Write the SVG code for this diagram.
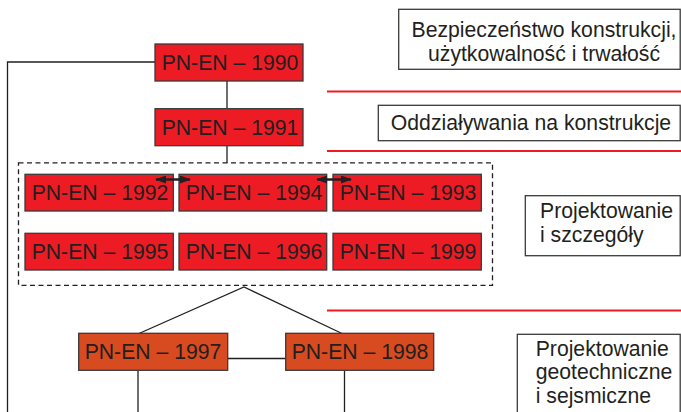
<svg xmlns="http://www.w3.org/2000/svg" width="681" height="412" viewBox="0 0 681 412">
<style>
.n rect{fill:#ED1C24;stroke:#3a3a3a;stroke-width:1.3}
.o rect{fill:#D84A1F;stroke:#3a3a3a;stroke-width:1.3}
.n text,.o text{font-family:"Liberation Sans",Arial,sans-serif;font-size:21.2px;fill:#231F20;text-anchor:middle}
.l rect{fill:#fff;stroke:#3a3a3a;stroke-width:1.3}
.l text{font-family:"Liberation Sans",Arial,sans-serif;font-size:21.2px;fill:#231F20}
.c line,.c polyline{stroke:#231F20;stroke-width:1.3;fill:none}
.a line{stroke:#231F20;stroke-width:2.4}
.r line{stroke:#ED1C24;stroke-width:2.2}
</style>
<defs>
<marker id="ah" viewBox="0 0 11 8" refX="10" refY="4" markerWidth="11" markerHeight="8" markerUnits="userSpaceOnUse" orient="auto-start-reverse">
<path d="M0,0 L11,4 L0,8 Z" fill="#231F20"/>
</marker>
</defs>
<g id="separators" class="r">
<line x1="327" y1="91.5" x2="681" y2="91.5"/>
<line x1="327" y1="151" x2="681" y2="151"/>
<line x1="327" y1="310.5" x2="681" y2="310.5"/>
</g>
<g id="connectors" class="c">
<polyline points="155,62 7.5,62 7.5,412"/>
<line x1="227" y1="81" x2="227" y2="108.5"/>
<line x1="227" y1="146" x2="227" y2="163"/>
<polyline points="139,333.5 244,287 342,333.5"/>
<line x1="228" y1="358.5" x2="285.5" y2="358.5"/>
<line x1="138" y1="370.5" x2="138" y2="412"/>
<line x1="344.5" y1="370.5" x2="344.5" y2="412"/>
</g>
<g id="group-design">
<rect x="18.5" y="162.8" width="474" height="122.5" fill="none" stroke="#231F20" stroke-width="1.3" stroke-dasharray="5,3.5"/>
</g>
<g id="n1990" class="n"><rect x="155" y="44" width="148" height="37"/><text x="230" y="70">PN-EN – 1990</text></g>
<g id="n1991" class="n"><rect x="155" y="108.7" width="148" height="37"/><text x="230" y="134.5">PN-EN – 1991</text></g>
<g id="n1992" class="n"><rect x="25" y="174.3" width="148.3" height="36.7"/><text x="100" y="200">PN-EN – 1992</text></g>
<g id="n1994" class="n"><rect x="179" y="174.3" width="147.7" height="36.7"/><text x="254" y="200">PN-EN – 1994</text></g>
<g id="n1993" class="n"><rect x="333" y="174.3" width="148.3" height="36.7"/><text x="408" y="200">PN-EN – 1993</text></g>
<g id="n1995" class="n"><rect x="25" y="233.3" width="148.3" height="36.7"/><text x="100" y="259">PN-EN – 1995</text></g>
<g id="n1996" class="n"><rect x="179" y="233.3" width="147.7" height="36.7"/><text x="254" y="259">PN-EN – 1996</text></g>
<g id="n1999" class="n"><rect x="333" y="233.3" width="148.3" height="36.7"/><text x="408" y="259">PN-EN – 1999</text></g>
<g id="n1997" class="o"><rect x="78.7" y="333.3" width="149" height="37"/><text x="153" y="359">PN-EN – 1997</text></g>
<g id="n1998" class="o"><rect x="285.7" y="333.3" width="148" height="37"/><text x="360" y="359">PN-EN – 1998</text></g>
<g id="label-safety" class="l"><rect x="398.7" y="9.3" width="281.5" height="60"/><text x="544" y="36.5" text-anchor="middle">Bezpieczeństwo konstrukcji,</text><text x="544" y="61" text-anchor="middle">użytkowalność i trwałość</text></g>
<g id="label-actions" class="l"><rect x="378.3" y="105.3" width="301.9" height="35.4"/><text x="531" y="130" text-anchor="middle">Oddziaływania na konstrukcje</text></g>
<g id="label-design" class="l"><rect x="525.3" y="195.7" width="154.9" height="60"/><text x="540" y="218.3">Projektowanie</text><text x="540" y="241.7">i szczegóły</text></g>
<g id="label-geo" class="l"><rect x="517.3" y="334.3" width="162.9" height="90"/><text x="535.7" y="356">Projektowanie</text><text x="535.7" y="379.3">geotechniczne</text><text x="535.7" y="402.7">i sejsmiczne</text></g>
<g id="arrows" class="a">
<line x1="156" y1="179.5" x2="190" y2="179.5" marker-start="url(#ah)" marker-end="url(#ah)"/>
<line x1="317" y1="179.5" x2="351" y2="179.5" marker-start="url(#ah)" marker-end="url(#ah)"/>
</g>
</svg>
